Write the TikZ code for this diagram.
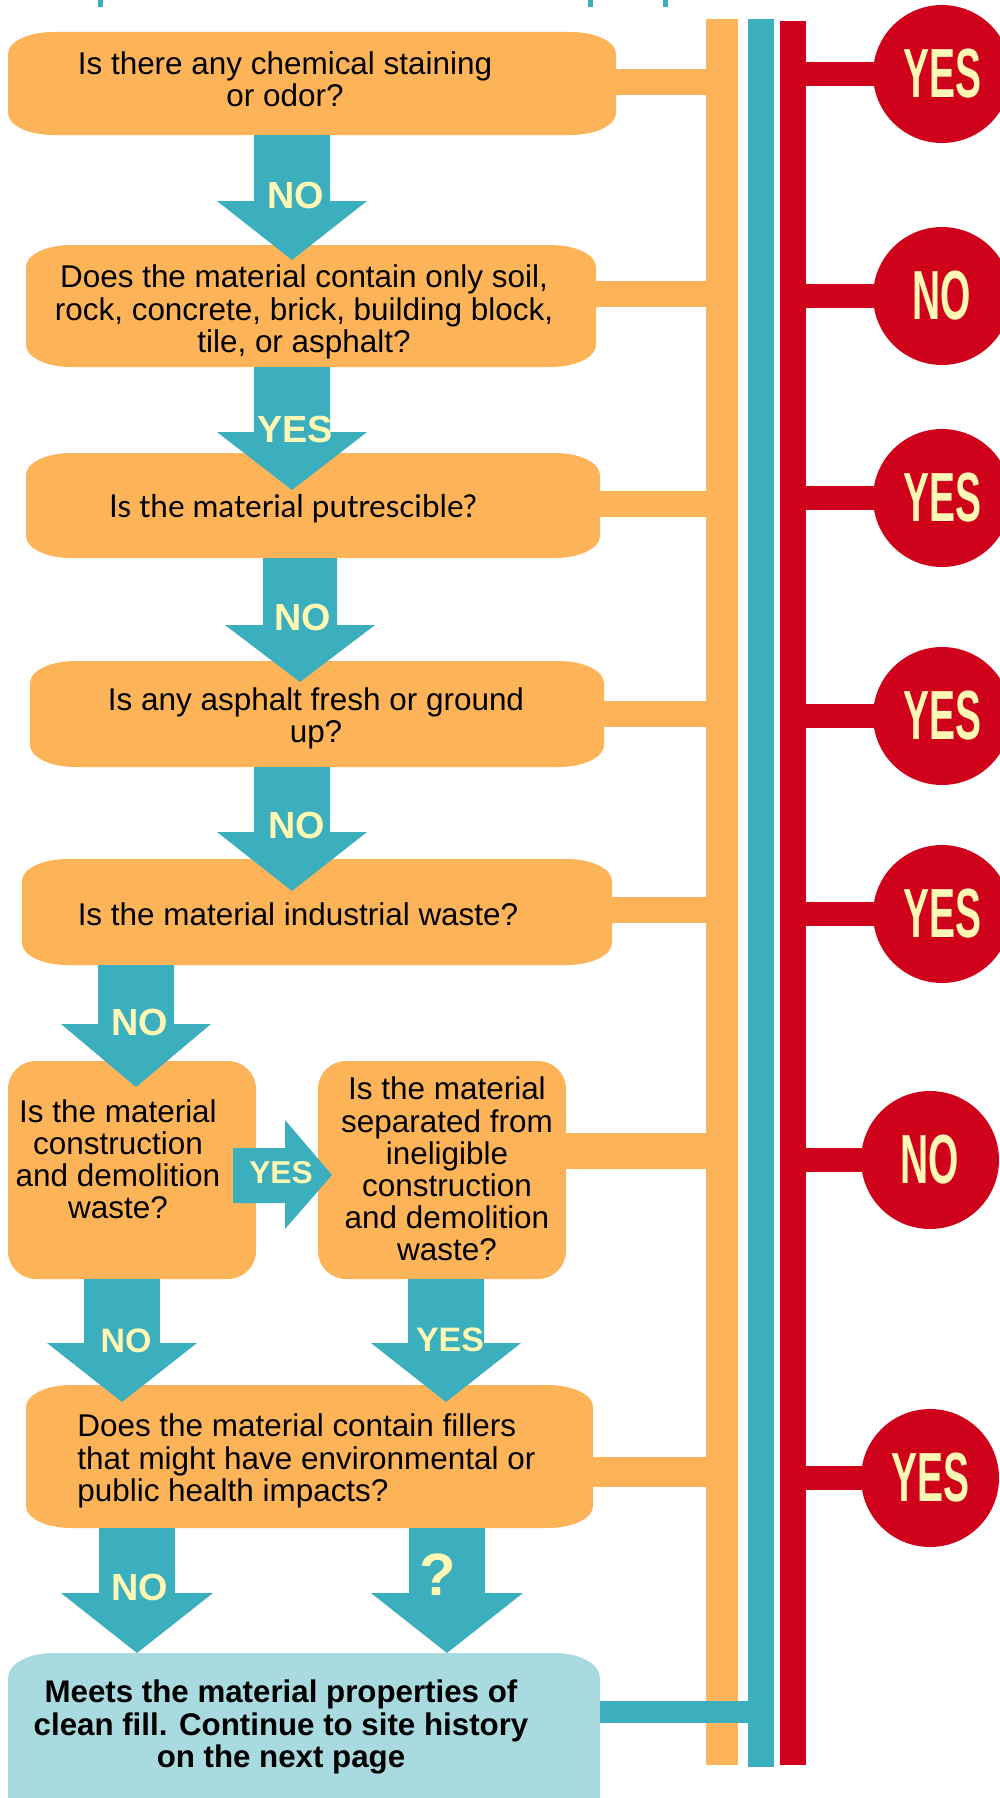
\documentclass[tikz,border=0pt]{standalone}
\usepackage{fontspec}
\setmainfont{Liberation Sans}
\newfontfamily\latofont{Lato}
\newfontfamily\circfont[FakeStretch=0.56]{Liberation Sans}
\usepackage{xcolor}
\usetikzlibrary{fit}

\definecolor{boxorange}{HTML}{FDB459}
\definecolor{flowcyan}{HTML}{3BAFBE}
\definecolor{stopred}{HTML}{D0021B}
\definecolor{endblue}{HTML}{A8DAE0}
\definecolor{labelyellow}{HTML}{FFF8B4}

\newcommand{\qpanel}[8]{%
  \fill[#2] (#3+#7,#4) -- (#5-#7,#4) arc[start angle=270,end angle=360,x radius=#7,y radius=#8]
    -- (#5,#6-#8) arc[start angle=0,end angle=90,x radius=#7,y radius=#8]
    -- (#3+#7,#6) arc[start angle=90,end angle=180,x radius=#7,y radius=#8]
    -- (#3,#4+#8) arc[start angle=180,end angle=270,x radius=#7,y radius=#8] -- cycle;
  \node[fit={(#3,#4) (#5,#6)},inner sep=0pt] (#1) {};}
\newcommand{\flowdown}[6]{%
  \fill[flowcyan] (#1-#5,#2) -- (#1+#5,#2) -- (#1+#5,#3) -- (#1+#6,#3) -- (#1,#4)
    -- (#1-#6,#3) -- (#1-#5,#3) -- cycle;}

\begin{document}
\begin{tikzpicture}[x=0.02cm,y=-0.02cm,
  qtext/.style={inner sep=0pt,align=center,font=\fontsize{17.9pt}{18.3pt}\selectfont},
  flowlabel/.style={inner sep=0pt,text=labelyellow,font=\bfseries\fontsize{21.5pt}{21.5pt}\selectfont},
  stopnode/.style={circle,fill=stopred,minimum size=2.76cm,inner sep=0pt,text=labelyellow,
    font=\circfont\bfseries\fontsize{39.6pt}{39.6pt}\selectfont},
  olink/.style={draw=boxorange,line width=0.52cm,shorten <=-0.05cm},
  rlink/.style={draw=stopred,line width=0.48cm,shorten >=-0.1cm},
  clink/.style={draw=flowcyan,line width=0.44cm}]
        \useasboundingbox (0,0) rectangle (1000,1798);
        \clip (0,0) rectangle (1000,1798);
        \fill[flowcyan] (98,0) rectangle (103,7);
        \fill[flowcyan] (588,0) rectangle (593,7);
        \fill[flowcyan] (663,0) rectangle (668,7);
        \coordinate (otop) at (722,19);
        \coordinate (ctop) at (761,19);
        \coordinate (rtop) at (793,21);
        \draw[boxorange,line width=0.64cm] (otop) -- (722,1765);
        \draw[flowcyan,line width=0.52cm] (ctop) -- (761,1767);
        \draw[stopred,line width=0.52cm] (rtop) -- (793,1765);
        \qpanel{q1}{boxorange}{8}{32}{616}{135}{45}{22}
        \qpanel{q2}{boxorange}{26}{245}{596}{367}{45}{22}
        \qpanel{q3}{boxorange}{26}{453}{600}{558}{45}{22}
        \qpanel{q4}{boxorange}{30}{661}{604}{767}{45}{22}
        \qpanel{q5}{boxorange}{22}{859}{612}{965}{45}{22}
        \qpanel{q6}{boxorange}{8}{1061}{256}{1279}{28}{28}
        \qpanel{q7}{boxorange}{318}{1061}{566}{1279}{28}{28}
        \qpanel{q8}{boxorange}{26}{1385}{593}{1528}{45}{22}
        \qpanel{q9}{endblue}{8}{1653}{600}{1830}{45}{25}
        \draw[olink] (q1.east |- 0,82) -- (otop |- 0,82);
        \draw[olink] (q2.east |- 0,294) -- (otop |- 0,294);
        \draw[olink] (q3.east |- 0,504) -- (otop |- 0,504);
        \draw[olink] (q4.east |- 0,714) -- (otop |- 0,714);
        \draw[olink] (q5.east |- 0,910) -- (otop |- 0,910);
        \draw[olink,line width=0.72cm] (q7.east |- 0,1151) -- (otop |- 0,1151);
        \draw[olink,line width=0.6cm] (q8.east |- 0,1472) -- (otop |- 0,1472);
        \draw[clink] (q9.east |- 0,1712) -- (ctop |- 0,1712);
        \flowdown{292}{135}{201}{260}{38}{75}
        \flowdown{292}{367}{432}{490}{38}{75}
        \flowdown{300}{558}{625}{682}{37}{75}
        \flowdown{292}{767}{832}{891}{38}{75}
        \flowdown{136}{965}{1024}{1087}{38}{75}
        \flowdown{122}{1279}{1343}{1402}{38}{75}
        \flowdown{446}{1279}{1343}{1402}{38}{75}
        \flowdown{137}{1528}{1593}{1653}{38}{76}
        \flowdown{447}{1528}{1593}{1653}{38}{76}
        \fill[flowcyan] (233,1148) -- (285,1148) -- (285,1120) -- (332,1175) -- (285,1229) -- (285,1203) -- (233,1203) -- cycle;
        \node[qtext] (t1) at (285,79) {Is there any chemical staining\\or odor?};
        \node[qtext] (t2) at (304,312) {Does the material contain only soil,\\rock, concrete, brick, building block,\\tile, or asphalt?};
        \node[qtext,font=\latofont\fontsize{17.9pt}{18.3pt}\selectfont] (t3) at (293,509) {Is the material putrescible?};
        \node[qtext] (t4) at (316,718) {Is any asphalt fresh or ground\\up?};
        \node[qtext] (t5) at (298,914) {Is the material industrial waste?};
        \node[qtext] (t6) at (118,1159) {Is the material\\construction\\and demolition\\waste?};
        \node[qtext] (t7) at (447,1169) {Is the material\\separated from\\ineligible\\construction\\and demolition\\waste?};
        \node[qtext,align=left,anchor=west] (t8) at (77,1461) {Does the material contain fillers\\that might have environmental or\\public health impacts?};
        \node[qtext,font=\bfseries\fontsize{17.8pt}{18.3pt}\selectfont] (t9) at (281,1727) {Meets the material properties of\\clean fill. Continue to site history\\on the next page};
        \node[flowlabel] (l1) at (296,195) {NO};
        \node[flowlabel] (l2) at (295,429) {YES};
        \node[flowlabel] (l3) at (303,617) {NO};
        \node[flowlabel] (l4) at (297,825) {NO};
        \node[flowlabel] (l5) at (140,1022) {NO};
        \node[flowlabel,font=\bfseries\fontsize{18pt}{18pt}\selectfont] (l6) at (281,1173) {YES};
        \node[flowlabel,font=\bfseries\fontsize{19.3pt}{19.3pt}\selectfont] (l7) at (126,1341) {NO};
        \node[flowlabel,font=\bfseries\fontsize{19.3pt}{19.3pt}\selectfont] (l8) at (450,1340) {YES};
        \node[flowlabel] (l9) at (140,1587) {NO};
        \node[flowlabel,font=\bfseries\fontsize{34pt}{34pt}\selectfont] (l10) at (438,1575) {?};
        \node[stopnode] (c1) at (942,74) {YES};
        \node[stopnode] (c2) at (942,296) {NO};
        \node[stopnode] (c3) at (942,498) {YES};
        \node[stopnode] (c4) at (942,716) {YES};
        \node[stopnode] (c5) at (942,914) {YES};
        \node[stopnode] (c6) at (930,1160) {NO};
        \node[stopnode] (c7) at (930,1478) {YES};
        \draw[rlink] (rtop |- c1) -- (c1.west);
        \draw[rlink] (rtop |- c2) -- (c2.west);
        \draw[rlink] (rtop |- c3) -- (c3.west);
        \draw[rlink] (rtop |- c4) -- (c4.west);
        \draw[rlink] (rtop |- c5) -- (c5.west);
        \draw[rlink] (rtop |- c6) -- (c6.west);
        \draw[rlink] (rtop |- c7) -- (c7.west);
    \end{tikzpicture}
\end{document}
